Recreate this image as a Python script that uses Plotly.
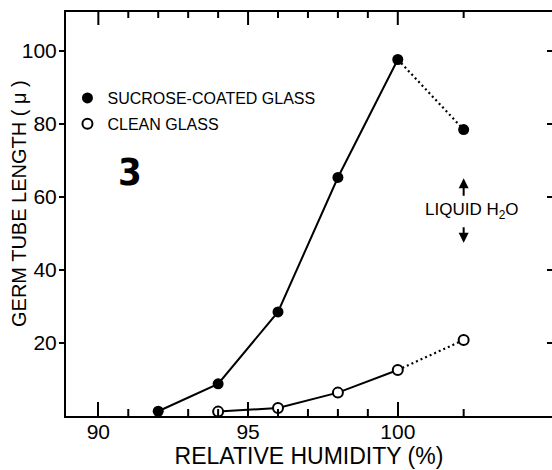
import plotly.graph_objects as go

# ---- data ----
humidity_sucrose = [92, 94, 96, 98, 100]
length_sucrose = [1.3, 8.8, 28.5, 65.3, 97.6]
humidity_clean = [94, 96, 98, 100]
length_clean = [1.2, 2.2, 6.4, 12.6]
liquid_x = 102.2          # "liquid H2O" condition plotted to the right of 100 %
liquid_sucrose = 78.4
liquid_clean = 20.8

x_major = [90, 95, 100]
x_minor = [91, 92, 93, 94, 96, 97, 98, 99, liquid_x]
y_ticks = [20, 40, 60, 80, 100]

X_RANGE = [88.92, 105.15]
Y_RANGE = [0, 110.6]

W, H = 552, 470
M = dict(l=66, r=0, t=12, b=54)
PLOT_W = W - M["l"] - M["r"]
PLOT_H = H - M["t"] - M["b"]

FONT = "Liberation Sans, Arial, Helvetica, sans-serif"
NARROW = "Liberation Sans Narrow, Arial Narrow, DejaVu Sans Condensed, Liberation Sans, sans-serif"
BLACK = "black"

fig = go.Figure()

# solid connecting lines
fig.add_trace(go.Scatter(x=humidity_sucrose, y=length_sucrose, mode="lines",
                         line=dict(color=BLACK, width=2), showlegend=False, hoverinfo="skip"))
fig.add_trace(go.Scatter(x=humidity_clean, y=length_clean, mode="lines",
                         line=dict(color=BLACK, width=2), showlegend=False, hoverinfo="skip"))
# dotted lines to the liquid-water points
fig.add_trace(go.Scatter(x=[humidity_sucrose[-1], liquid_x], y=[length_sucrose[-1], liquid_sucrose],
                         mode="lines", line=dict(color=BLACK, width=2.2, dash="2px,3px"),
                         showlegend=False, hoverinfo="skip"))
fig.add_trace(go.Scatter(x=[humidity_clean[-1], liquid_x], y=[length_clean[-1], liquid_clean],
                         mode="lines", line=dict(color=BLACK, width=2.2, dash="2px,3px"),
                         showlegend=False, hoverinfo="skip"))
# markers (with legend entries)
fig.add_trace(go.Scatter(x=humidity_sucrose + [liquid_x], y=length_sucrose + [liquid_sucrose],
                         mode="markers", name="SUCROSE-COATED GLASS", legendgroup="a",
                         marker=dict(symbol="circle", size=11, color=BLACK, line=dict(width=0))))
fig.add_trace(go.Scatter(x=humidity_clean + [liquid_x], y=length_clean + [liquid_clean],
                         mode="markers", name="CLEAN GLASS", legendgroup="b",
                         marker=dict(symbol="circle", size=10, color="white",
                                     line=dict(width=2, color=BLACK))))
# invisible trace carrying the right-hand tick-only axis
fig.add_trace(go.Scatter(x=[None], y=[None], yaxis="y2", mode="markers",
                         showlegend=False, hoverinfo="skip"))

# ---- extra frame ticks (minor bottom, top mirror), built from the tick lists ----
tick_line = dict(color=BLACK, width=2)
shapes = []
for v in x_minor:   # short ticks pointing up from the bottom axis
    shapes.append(dict(type="line", xref="x", yref="y domain", x0=v, x1=v,
                       y0=0, y1=7 / PLOT_H, line=tick_line, layer="above"))
for v in x_major:   # long ticks hanging from the top frame
    shapes.append(dict(type="line", xref="x", yref="y domain", x0=v, x1=v,
                       y0=1, y1=1 - 13 / PLOT_H, line=tick_line, layer="above"))
for v in x_minor:   # short ticks hanging from the top frame
    shapes.append(dict(type="line", xref="x", yref="y domain", x0=v, x1=v,
                       y0=1, y1=1 - 6 / PLOT_H, line=tick_line, layer="above"))

annotations = [
    dict(text="GERM TUBE LENGTH ( μ )", xref="paper", yref="paper",
         x=(19 - M["l"]) / PLOT_W, y=(PLOT_H + M["t"] - 204) / PLOT_H, textangle=-90,
         showarrow=False, font=dict(family=FONT, size=20, color=BLACK),
         xanchor="center", yanchor="middle"),
    dict(text="<b>3</b>", xref="paper", yref="paper", x=0.1317, y=0.6047,
         showarrow=False, font=dict(family=NARROW, size=38, color=BLACK),
         xanchor="center", yanchor="middle"),
    dict(text="LIQUID H<sub>2</sub>O", xref="x", yref="y", x=102.48, y=56.0,
         showarrow=False, font=dict(family=FONT, size=17, color=BLACK),
         xanchor="center", yanchor="middle"),
    dict(text="", xref="x", yref="y", x=liquid_x, y=65.1, ax=0, ay=19,
         showarrow=True, arrowhead=2, arrowsize=1, arrowwidth=2, arrowcolor=BLACK),
    dict(text="", xref="x", yref="y", x=liquid_x, y=47.4, ax=0, ay=-17,
         showarrow=True, arrowhead=2, arrowsize=1, arrowwidth=2, arrowcolor=BLACK),
]

fig.update_layout(
    width=W, height=H,
    margin=dict(M, autoexpand=False),
    paper_bgcolor="white", plot_bgcolor="white",
    font=dict(family=FONT, color=BLACK),
    showlegend=True,
    legend=dict(x=0.003, y=0.8292, xanchor="left", yanchor="top",
                font=dict(family=FONT, size=16, color=BLACK),
                bgcolor="rgba(0,0,0,0)", borderwidth=0, tracegroupgap=2,
                itemwidth=30),
    xaxis=dict(range=X_RANGE, tickmode="array", tickvals=x_major,
               ticks="inside", ticklen=14, tickwidth=2, tickcolor=BLACK,
               showline=True, linewidth=2, linecolor=BLACK, mirror=True,
               showgrid=False, zeroline=False, automargin=False,
               ticklabelstandoff=-4,
               tickfont=dict(family=FONT, size=21, color=BLACK),
               title=dict(text="RELATIVE HUMIDITY (%)", standoff=3,
                          font=dict(family=FONT, size=23, color=BLACK))),
    yaxis=dict(range=Y_RANGE, tickmode="array", tickvals=y_ticks,
               ticks="outside", ticklen=5, tickwidth=2, tickcolor=BLACK,
               showline=True, linewidth=2, linecolor=BLACK, mirror=False,
               showgrid=False, zeroline=False, automargin=False,
               ticklabelstandoff=-2,
               tickfont=dict(family=FONT, size=21, color=BLACK)),
    yaxis2=dict(range=Y_RANGE, overlaying="y", side="right", anchor="x", tickmode="array",
                tickvals=y_ticks, ticks="inside", ticklen=5, tickwidth=2, tickcolor=BLACK,
                showticklabels=False, showline=False, showgrid=False, zeroline=False,
                automargin=False),
    shapes=shapes,
    annotations=annotations,
)

# remove the browser's default page margin / scrollbars so the figure sits at the window origin
fig.write_html("out.html", config={"displayModeBar": False},
               post_script="document.body.style.margin='0';document.body.style.overflow='hidden';"
                           "document.documentElement.style.overflow='hidden';")
